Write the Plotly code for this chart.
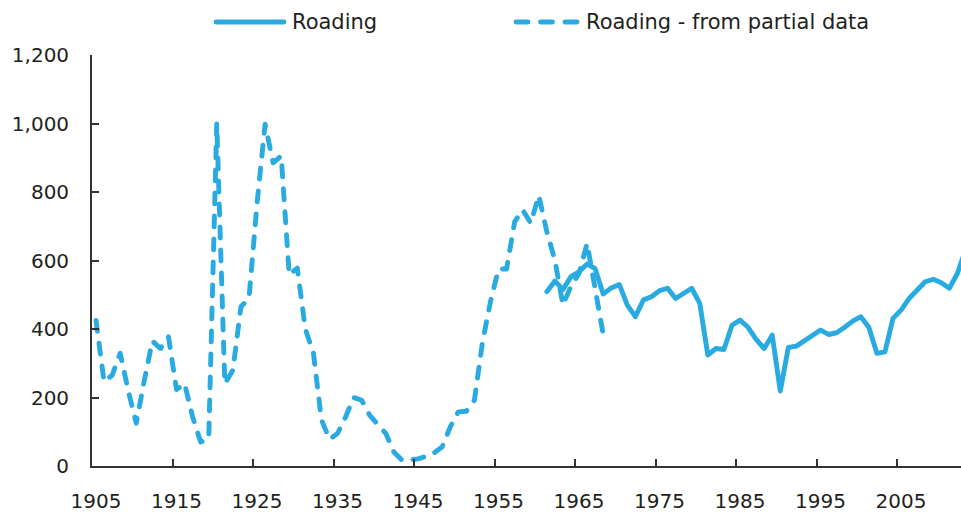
import plotly.graph_objects as go

# ---------------- data ----------------
years_partial = list(range(1905, 1969))
roading_partial = [
    425, 246, 265, 329, 220, 125, 250, 365, 343, 377,   # 1905-1914
    223, 241, 143, 70, 80, 1000, 240, 280, 465, 490,    # 1915-1924
    765, 998, 885, 905, 558, 578, 400, 330, 135, 78,    # 1925-1934
    95, 143, 200, 192, 148, 119, 95, 41, 17, 18,        # 1935-1944
    21, 28, 38, 56, 114, 158, 160, 192, 360, 480,       # 1945-1954
    575, 575, 713, 748, 709, 790, 684, 601, 470, 525,   # 1955-1964
    562, 650, 520, 385,                                 # 1965-1968
]

years_full = list(range(1961, 2014))
roading_full = [
    509, 540, 515, 553, 567, 590, 576, 502, 520, 530,   # 1961-1970
    470, 436, 485, 494, 512, 519, 489, 502, 519, 475,   # 1971-1980
    324, 343, 340, 411, 426, 405, 370, 343, 382, 219,   # 1981-1990
    346, 350, 366, 384, 397, 384, 389, 405, 423, 436,   # 1991-2000
    405, 329, 333, 431, 455, 489, 512, 538, 545, 535,   # 2001-2010
    519, 562, 630,                                      # 2011-2013
]

x_tick_years = [1905, 1915, 1925, 1935, 1945, 1955, 1965, 1975, 1985, 1995, 2005]
x_tick_labels = [str(y) for y in x_tick_years]
y_tick_vals = [0, 200, 400, 600, 800, 1000, 1200]

series_names = ["Roading", "Roading - from partial data"]

# ---------------- layout constants ----------------
W, H = 961, 512
L, R, T, B = 92, 0, 55, 46
PX_PER_YEAR = 8.05
X0 = 1904.5
X1 = X0 + (W - L - R) / PX_PER_YEAR
COLOR = "#29ABE2"
TEXT = "#231F20"
AXIS = "#333333"
FONT = "DejaVu Sans, Verdana, sans-serif"
LW = 4.9
DASH = "11px,12px"


def px_x(p):
    return (p - L) / (W - L - R)


def px_y(p):
    return (H - B - p) / (H - T - B)


fig = go.Figure()
fig.add_trace(go.Scatter(
    x=years_full, y=roading_full, mode="lines", name=series_names[0],
    line=dict(color=COLOR, width=LW), showlegend=False,
))
fig.add_trace(go.Scatter(
    x=years_partial, y=roading_partial, mode="lines", name=series_names[1],
    line=dict(color=COLOR, width=LW, dash=DASH), showlegend=False,
))

# custom legend (long line samples like the original)
leg_y = px_y(22)
shapes = [
    dict(type="line", xref="paper", yref="paper", x0=px_x(216), x1=px_x(284),
         y0=leg_y, y1=leg_y, line=dict(color=COLOR, width=LW)),
    dict(type="line", xref="paper", yref="paper", x0=px_x(516), x1=px_x(577),
         y0=leg_y, y1=leg_y, line=dict(color=COLOR, width=LW, dash="12px,12.5px")),
]
annotations = [
    dict(text=series_names[0], xref="paper", yref="paper", x=px_x(290), y=leg_y,
         xanchor="left", yanchor="middle", showarrow=False,
         font=dict(family=FONT, size=21, color=TEXT)),
    dict(text=series_names[1], xref="paper", yref="paper", x=px_x(584), y=leg_y,
         xanchor="left", yanchor="middle", showarrow=False,
         font=dict(family=FONT, size=21, color=TEXT)),
]

fig.update_layout(
    width=W, height=H,
    margin=dict(l=L, r=R, t=T, b=B, pad=0),
    paper_bgcolor="white", plot_bgcolor="white",
    font=dict(family=FONT, size=20, color=TEXT),
    showlegend=False,
    shapes=shapes,
    annotations=annotations,
    xaxis=dict(
        range=[X0, X1],
        tickmode="array",
        tickvals=[y - 0.5 for y in x_tick_years],
        ticktext=x_tick_labels,
        ticklabelshift=round(PX_PER_YEAR / 2),
        ticks="inside", ticklen=7, tickwidth=1.5, tickcolor=AXIS,
        showline=True, linecolor=AXIS, linewidth=1.8,
        showgrid=False, zeroline=False,
        tickfont=dict(family=FONT, size=20, color=TEXT),
        ticklabelstandoff=16,
    ),
    yaxis=dict(
        range=[0, 1200],
        tickmode="array", tickvals=y_tick_vals, tickformat=",",
        ticks="inside", ticklen=7, tickwidth=1.5, tickcolor=AXIS,
        showline=True, linecolor=AXIS, linewidth=1.8,
        showgrid=False, zeroline=False,
        tickfont=dict(family=FONT, size=20, color=TEXT),
        ticklabelstandoff=17,
    ),
)

post = """
var s = document.createElement('style');
s.textContent = 'html, body { margin: 0; padding: 0; overflow: hidden; } '
  + '.js-line, .shapelayer path { stroke-linecap: round; stroke-linejoin: round; }';
document.head.appendChild(s);
"""

fig.write_html("out.html", post_script=post, config={"displayModeBar": False})
